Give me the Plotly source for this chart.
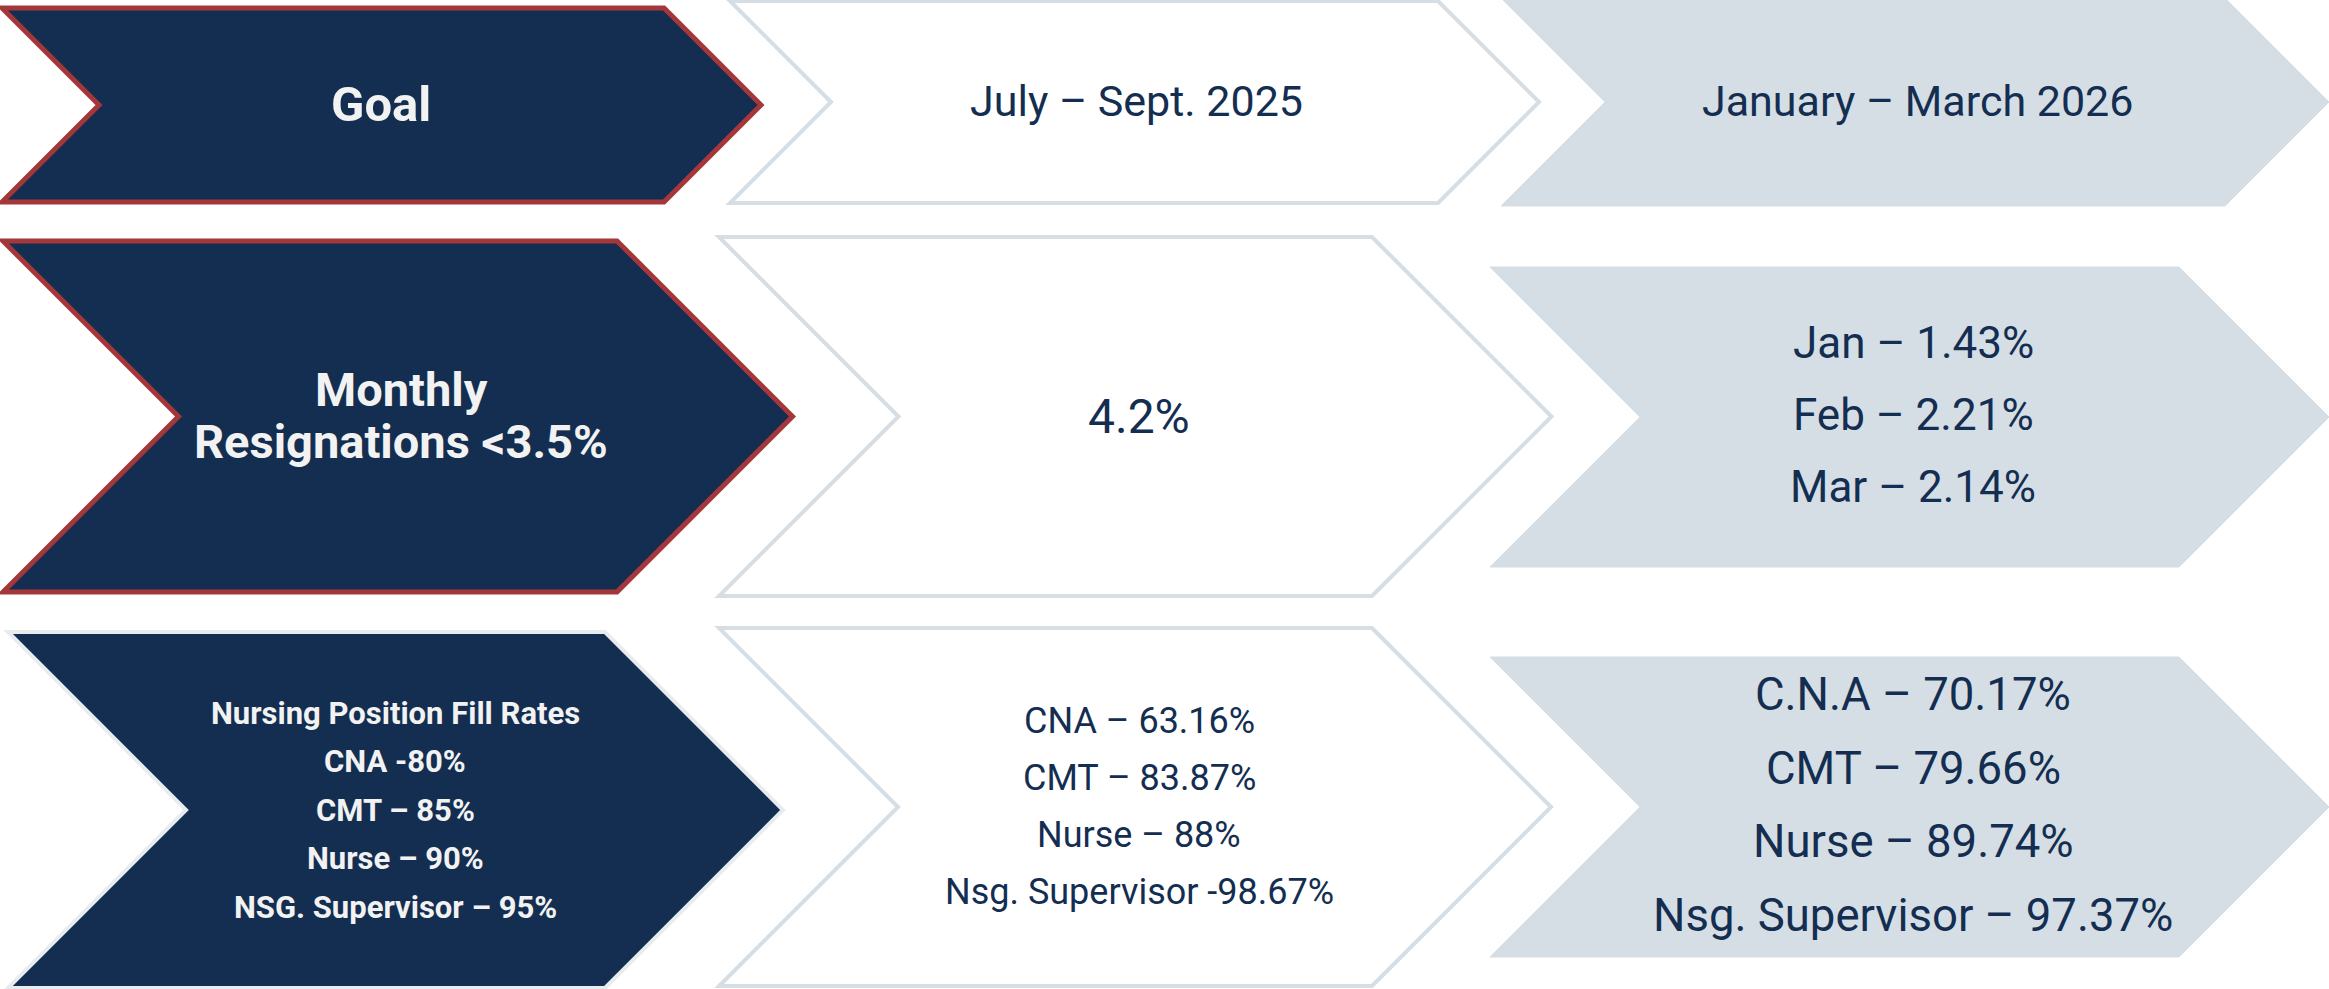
import plotly.graph_objects as go

# ---------------- data ----------------
goals = ["Goal", "Monthly<br>Resignations <3.5%",
         "Nursing Position Fill Rates<br>CNA -80%<br>CMT – 85%<br>Nurse – 90%<br>NSG. Supervisor – 95%"]
period_1 = ["July – Sept. 2025", "4.2%",
            "CNA – 63.16%<br>CMT – 83.87%<br>Nurse – 88%<br>Nsg. Supervisor -98.67%"]
period_2 = ["January – March 2026", "Jan – 1.43%<br>Feb – 2.21%<br>Mar – 2.14%",
            "C.N.A – 70.17%<br>CMT – 79.66%<br>Nurse – 89.74%<br>Nsg. Supervisor – 97.37%"]

# ---------------- layout / geometry (pixels) ----------------
W, H = 2329, 989
NAVY = "#142E51"
RED = "#A3373A"
LIGHT = "#D6DEE5"
WHITE_TXT = "#F2F2F2"

# chevron: (x_left, y_top, y_bottom, x_right_top)
geom = [
    [(2, 8, 202, 664), (730, 1, 203, 1438), (1501, -2, 206, 2225)],
    [(3, 241, 592, 617), (719, 237, 596, 1372), (1490, 267, 567, 2179)],
    [(8, 632, 988, 605), (719, 628, 986, 1372), (1490, 657, 957, 2179)],
]
styles = [
    [dict(fill=NAVY, line=RED, lw=5), dict(fill="#FFFFFF", line=LIGHT, lw=4), dict(fill=LIGHT, line=LIGHT, lw=1)],
    [dict(fill=NAVY, line=RED, lw=5), dict(fill="#FFFFFF", line=LIGHT, lw=4), dict(fill=LIGHT, line=LIGHT, lw=1)],
    [dict(fill=NAVY, line="#E9ECEF", lw=4), dict(fill="#FFFFFF", line=LIGHT, lw=4), dict(fill=LIGHT, line=LIGHT, lw=1)],
]
# text centres and line spacing, font sizes
text_cfg = [
    [dict(x=381, y=104, dy=0, size=49, bold=True),
     dict(x=1136, y=101, dy=0, size=43, bold=False),
     dict(x=1917, y=101, dy=0, size=43, bold=False)],
    [dict(x=401, y=415, dy=52, size=47, bold=True),
     dict(x=1139, y=416, dy=0, size=48, bold=False),
     dict(x=1913, y=415, dy=72, size=44, bold=False)],
    [dict(x=395, y=810, dy=48.5, size=31, bold=True),
     dict(x=1139, y=806, dy=57, size=36, bold=False),
     dict(x=1913, y=805, dy=73.5, size=45.5, bold=False)],
]

fig = go.Figure()
shapes = []
annotations = []
columns = [goals, period_1, period_2]
for r in range(3):
    for c in range(3):
        xl, yt, yb, xr = geom[r][c]
        ym = (yt + yb) / 2
        d = (yb - yt) / 2
        path = (f"M {xl},{yt} L {xr},{yt} L {xr + d},{ym} L {xr},{yb} "
                f"L {xl},{yb} L {xl + d},{ym} Z")
        st = styles[r][c]
        shapes.append(dict(type="path", path=path, xref="x", yref="y",
                           fillcolor=st["fill"], line=dict(color=st["line"], width=st["lw"]),
                           layer="below"))
        cfg = text_cfg[r][c]
        lines = columns[c][r].split("<br>")
        n = len(lines)
        for i, ln in enumerate(lines):
            yy = cfg["y"] + (i - (n - 1) / 2) * cfg["dy"]
            annotations.append(dict(
                x=cfg["x"], y=yy, xref="x", yref="y", text=ln, showarrow=False,
                xanchor="center", yanchor="middle",
                font=dict(family="Roboto, Arial, sans-serif", size=cfg["size"],
                          color=WHITE_TXT if c == 0 else NAVY,
                          weight="bold" if cfg["bold"] else "normal"),
            ))

fig.update_layout(
    width=W, height=H,
    margin=dict(l=0, r=0, t=0, b=0),
    paper_bgcolor="white", plot_bgcolor="white",
    xaxis=dict(range=[0, W], visible=False, fixedrange=True),
    yaxis=dict(range=[H, 0], visible=False, fixedrange=True),
    shapes=shapes, annotations=annotations, showlegend=False,
)
fig.write_html("out.html", config={"displayModeBar": False},
               post_script="document.body.style.margin='0';document.body.style.overflow='hidden';")
